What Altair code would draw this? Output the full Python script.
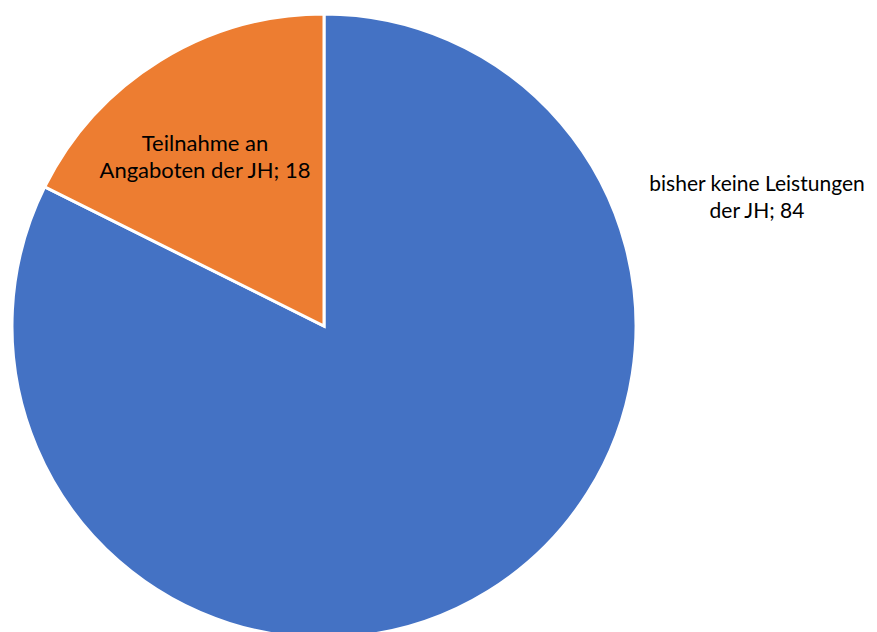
import altair as alt
import pandas as pd

categories = ["bisher keine Leistungen der JH", "Teilnahme an Angaboten der JH"]
values = [84, 18]
colors = ["#4472C4", "#ED7D31"]
label_lines = [["bisher keine Leistungen", "der JH; 84"], ["Teilnahme an", "Angaboten der JH; 18"]]

df = pd.DataFrame({"cat": categories, "val": values, "order": [0, 1]})
df["label"] = [l for l in label_lines]

CX, CY, R = 316, 318, 312

base = alt.Chart(df)

pie = base.mark_arc(stroke="white", strokeWidth=3, radius=R).encode(
    theta=alt.Theta("val:Q", stack=True),
    order=alt.Order("order:Q"),
    color=alt.Color("cat:N", scale=alt.Scale(domain=categories, range=colors), legend=None),
    x=alt.value(CX),
    y=alt.value(CY),
)

lab_blue = alt.Chart(df[df["order"] == 0]).mark_text(
    font="Lato", fontSize=21, lineHeight=27, align="center", baseline="middle", color="black"
).encode(text="label", x=alt.value(749), y=alt.value(177))

lab_orange = alt.Chart(df[df["order"] == 1]).mark_text(
    font="Lato", fontSize=22, lineHeight=27, align="center", baseline="middle", color="black"
).encode(text="label", x=alt.value(197), y=alt.value(136))

chart = alt.layer(pie, lab_blue, lab_orange).properties(
    width=861, height=640, autosize=alt.AutoSizeParams(type="none"), padding=0
).configure_view(stroke=None)

chart.save("out.html", embed_options={"renderer": "svg", "actions": False})
